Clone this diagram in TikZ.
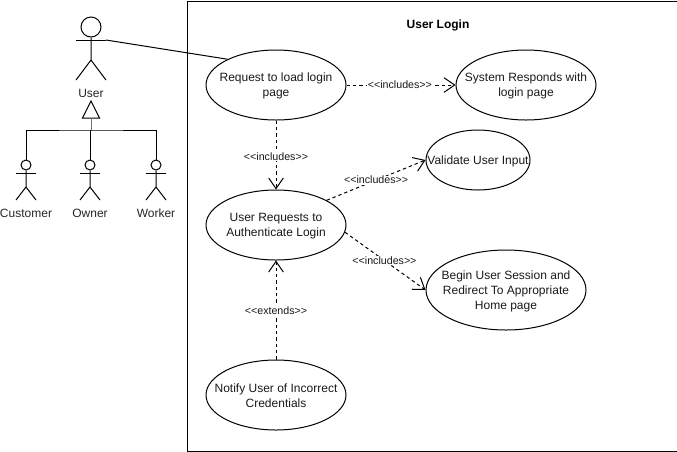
\documentclass[tikz,border=0pt]{standalone}
\usepackage{fontspec}
\setmainfont{Liberation Sans}
\usetikzlibrary{arrows.meta,shapes.geometric}
\tikzset{
  usecase/.style={draw,ellipse,inner sep=0pt,line width=0.75pt},
  casetext/.style={align=center,font=\fontsize{9}{11}\selectfont,inner sep=0pt,text=black!90},
  actorline/.style={line width=0.75pt},
  actorname/.style={font=\fontsize{9}{11}\selectfont,text=black!85},
  stereo/.style={font=\fontsize{8}{9}\selectfont,fill=white,inner xsep=0.5pt,inner ysep=0.5pt,text=black!90},
  dep/.style={line width=0.75pt,dash pattern=on 2.5pt off 2.25pt,-{Straight Barb[length=8pt,width=11pt,line width=0.75pt]}},
}
\newcommand{\smallactor}[3]{%
  \node[draw,circle,inner sep=0pt,minimum size=7.5pt,line width=0.75pt] (#2) at (#1,165) {};
  \coordinate (#2arms) at (#1,173);
  \coordinate (#2hip) at (#1,187);
  \draw[actorline] (#2.south) -- (#2hip) -- ++(-10,13) (#2hip) -- ++(10,13);
  \draw[actorline] (#2arms) ++(-10,0) -- ++(20,0);
  \node[actorname] (#2name) at (#1,213.5) {#3};
}
\newcommand{\usecasenode}[6]{%
  \node[usecase,minimum width=#3pt,minimum height=#4pt] (#1) at (#2) {};
  \node[casetext] (#1text) at (#5) {#6};
}
\begin{document}
\begin{tikzpicture}[x=0.75pt,y=-0.75pt]
\useasboundingbox (0,0) rectangle (677,451);
\node[draw,line width=0.75pt,minimum width=367.5pt,minimum height=337.5pt,inner sep=0pt,anchor=north west] (system) at (186.5,0.5) {};
\node[font=\bfseries\fontsize{9}{11}\selectfont] (title) at (438,25) {User Login};

\usecasenode{load}{276,85}{105}{52.5}{276,86}{Request to load login\\page}
\usecasenode{respond}{526,85}{105}{52.5}{526,86}{System Responds with\\login page}
\usecasenode{auth}{276,225}{105}{52.5}{276,226}{User Requests to\\Authenticate Login}
\usecasenode{validate}{478,160}{78}{45}{478,161}{Validate User Input}
\usecasenode{session}{506,290}{120}{60}{506,291.5}{Begin User Session and\\Redirect To Appropriate\\Home page}
\usecasenode{notify}{276,395}{105}{52.5}{276,396}{Notify User of Incorrect\\Credentials}

% main actor
\node[draw,circle,inner sep=0pt,minimum size=15pt,line width=0.75pt] (user) at (91,27) {};
\coordinate (userhand) at (106,40);
\coordinate (userhandl) at (76,40);
\coordinate (userhip) at (91,60);
\draw[actorline] (user.south) -- (userhip) -- (76,80) (userhip) -- (106,80);
\draw[actorline] (userhandl) -- (userhand);
\node[actorname] (username) at (91,93.5) {User};
\draw[line width=0.75pt] (userhand) -- (load.152);

\smallactor{26}{customer}{Customer}
\smallactor{90}{owner}{Owner}
\smallactor{156}{worker}{Worker}

% generalisation
\coordinate (gentop) at (91,101);
\coordinate (genbase) at (91,118);
\coordinate (bus) at (91,130);
\draw[line width=0.75pt] (gentop) -- (99.5,118) -- (82.5,118) -- cycle;
\draw[line width=0.75pt,black!55] (genbase) -- (bus);
\draw[line width=0.75pt] (customer.north) |- (bus) -| (worker.north);
\draw[line width=0.75pt] (owner.north) -- (owner.north |- bus);

% dependencies
\draw[dep] (load.east) -- node[stereo,pos=0.49] {<{}<includes>{}>} (respond.west);
\draw[dep] (load.south) -- node[stereo,pos=0.52] {<{}<includes>{}>} (auth.north);
\draw[dep] (auth.26) -- node[stereo,pos=0.50] {<{}<includes>{}>} (validate.west);
\draw[dep] (auth.-6) -- node[stereo,pos=0.49] {<{}<includes>{}>} (session.west);
\draw[dep] (notify.north) -- node[stereo,pos=0.49] {<{}<extends>{}>} (auth.south);
\end{tikzpicture}
\end{document}
